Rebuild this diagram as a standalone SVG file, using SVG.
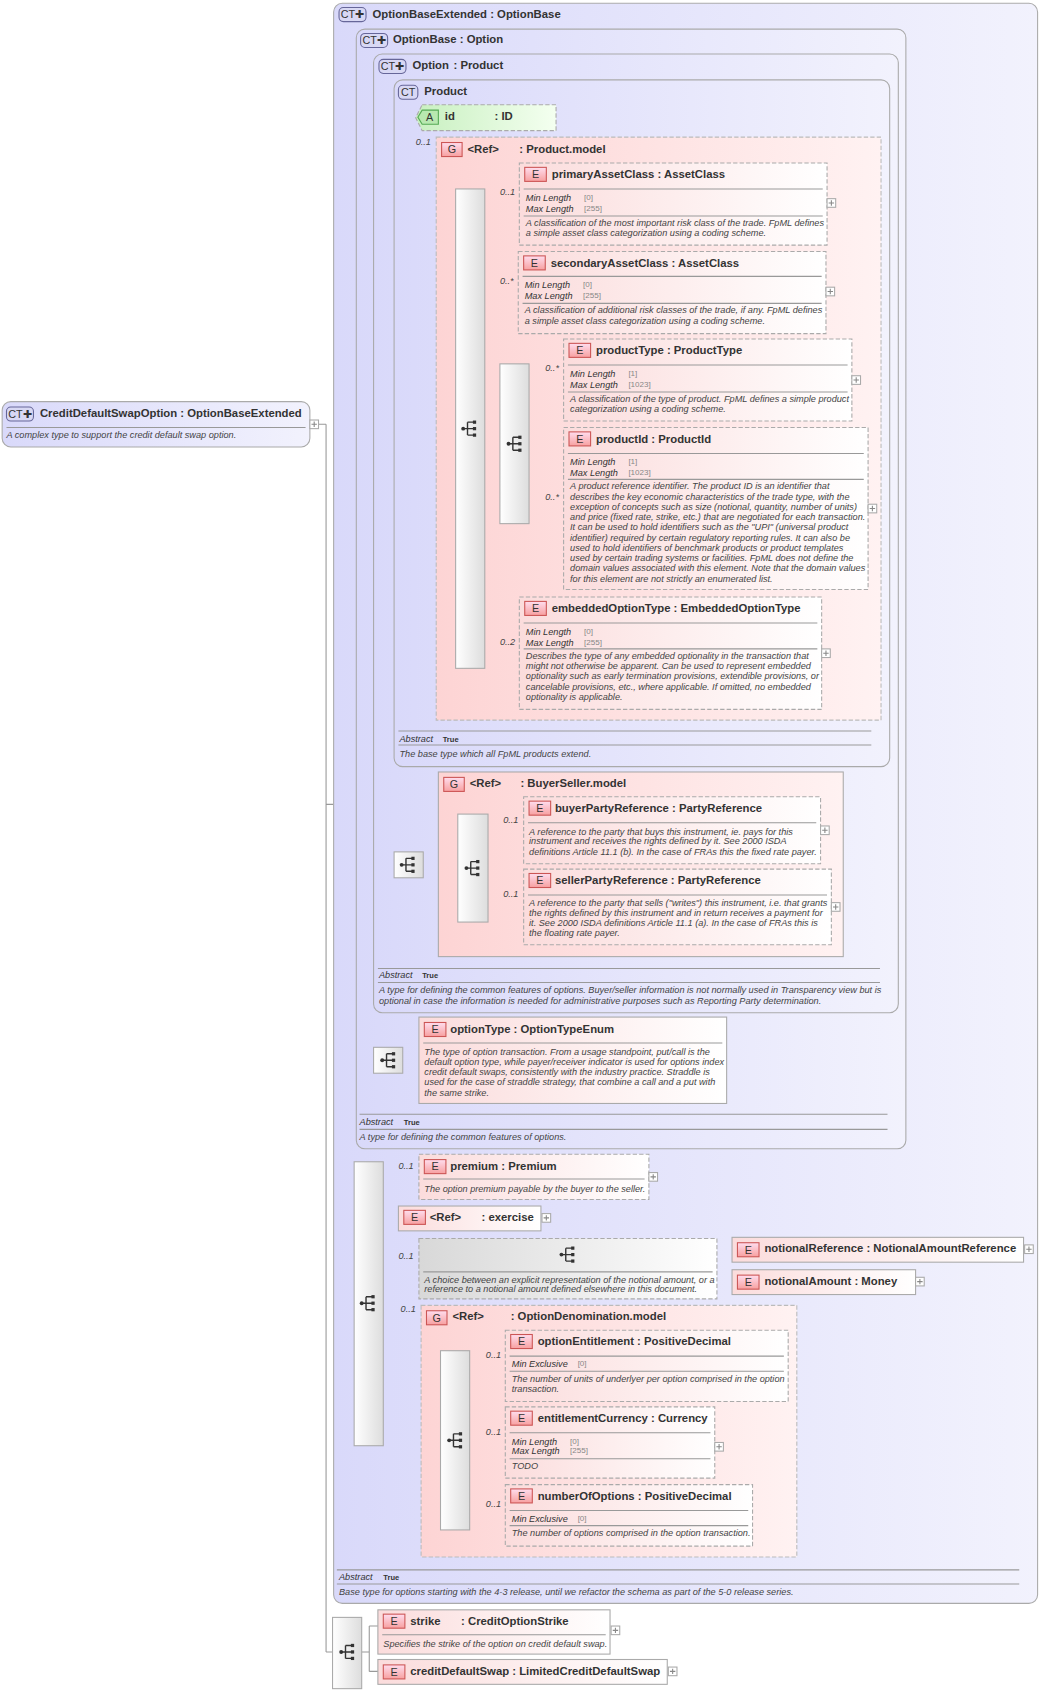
<svg xmlns="http://www.w3.org/2000/svg" width="1043" height="1695" viewBox="0 0 1043 1695">
<style>
text{font-family:"Liberation Sans",Arial,sans-serif;fill:#333}
.t{font-size:10.5px;font-weight:bold}
.l{font-size:8.5px;font-style:italic}
.v{font-size:7.5px;fill:#888}
.d{font-size:8.5px;font-style:italic;fill:#444}
.m{font-size:8.5px;font-style:italic;fill:#444}
.ic{font-size:10px;text-anchor:middle}
.ct{fill:url(#gct);stroke:#aaa;stroke-width:1}
.el{fill:url(#gel);stroke:#aaa;stroke-dasharray:4 2}
.els{fill:url(#gel);stroke:#aaa}
.grp{fill:url(#ggr);stroke:#bbb;stroke-dasharray:4 2}
.grps{fill:url(#ggr);stroke:#aaa}
.sq{fill:url(#gsq);stroke:#aaa}
.ln{stroke:#999;fill:none}
.sep{stroke:#999}
.ie{fill:url(#gie);stroke:#c55}
.ict{fill:#d8d8f4;stroke:#669}
.pl{fill:#fff;stroke:#aaa}
</style>
<defs>
<linearGradient id="gct" x1="0" x2="1"><stop offset="0" stop-color="#d9d9fa"/><stop offset="1" stop-color="#f2f2fd"/></linearGradient>
<linearGradient id="gel" x1="0" x2="1"><stop offset="0" stop-color="#fbdcdc"/><stop offset="1" stop-color="#ffffff"/></linearGradient>
<linearGradient id="ggr" x1="0" x2="1"><stop offset="0" stop-color="#fdd4d4"/><stop offset="1" stop-color="#fff2f2"/></linearGradient>
<linearGradient id="gsq" x1="0" x2="1"><stop offset="0" stop-color="#ffffff"/><stop offset="1" stop-color="#dddddd"/></linearGradient>
<linearGradient id="gie" x1="0" x2="0" y1="0" y2="1"><stop offset="0" stop-color="#fde"/><stop offset="1" stop-color="#f7a0a0"/></linearGradient>
<linearGradient id="gat" x1="0" x2="1"><stop offset="0" stop-color="#c8f0c0"/><stop offset="1" stop-color="#f4fff0"/></linearGradient>
<linearGradient id="gch" x1="0" x2="1"><stop offset="0" stop-color="#d8d8d8"/><stop offset="1" stop-color="#ffffff"/></linearGradient>
<symbol id="seq" viewBox="-8 -8 16 16" overflow="visible">
<circle cx="-6" cy="0" r="1.8" fill="#333"/><path d="M-6 0H-2M-2-6V6M-2-6H4M-2 0H4M-2 6H4" stroke="#333" stroke-width="1.3" fill="none"/>
<rect x="3" y="-7.5" width="3" height="3" fill="#333"/><rect x="3" y="-1.5" width="3" height="3" fill="#333"/><rect x="3" y="4.5" width="3" height="3" fill="#333"/>
</symbol>
<symbol id="pl" overflow="visible"><rect x="-4" y="-4" width="8" height="8" class="pl"/><path d="M-2.5 0H2.5M0-2.5V2.5" stroke="#888"/></symbol>
</defs>
<rect width="1043" height="1695" fill="#fff"/>
<g transform="scale(1.0797)">
<g id="connectors">
<path class="ln" d="M295 393H302M302 393V1530M302 745H309M302 1530H308"/>
<path class="ln" d="M318 545V1207M318 545H330M318 1207H328"/>
<path class="ln" d="M336 493V980M336 493H346M336 980H346"/>
<path class="ln" d="M356 392V800M356 392H365M356 800H365"/>
<path class="ln" d="M375 108V397M375 108H385M375 397H422"/>
<path class="ln" d="M449 397H455M455 189V597M455 189H481M455 270H480M455 411H463M455 597H481"/>
<path class="ln" d="M490 411H497M497 351V460M497 351H522M497 460H522"/>
<path class="ln" d="M392 800H424M452 804H458M458 762V841M458 762H485M458 841H485"/>
<path class="ln" d="M373 982H388"/>
<path class="ln" d="M355 1081V1326M355 1081H388M355 1128H369M355 1163H388M355 1326H408"/>
<path class="ln" d="M664 1162H670M670 1157V1188M670 1157H678M670 1188H678"/>
<path class="ln" d="M435 1334H441M441 1265V1404M441 1265H468M441 1336H468M441 1404H468"/>
<path class="ln" d="M335 1530H342M342 1506V1548M342 1506H350M342 1548H350"/>
</g>

<g id="root">
<rect x="2" y="372" width="285" height="42" rx="8" class="ct"/>
<rect x="6" y="377" width="25" height="13" rx="4" class="ict"/><text x="18.5" y="387" class="ic">CT✚</text>
<text x="37" y="386" class="t">CreditDefaultSwapOption : OptionBaseExtended</text>
<line x1="6" y1="396" x2="283" y2="396" class="sep"/>
<text x="6" y="406" class="d">A complex type to support the credit default swap option.</text>
<use href="#pl" x="291" y="393"/>
</g>

<g id="OptionBaseExtended">
<rect x="309" y="3" width="652" height="1482" rx="8" class="ct"/>
<rect x="314" y="7" width="25" height="13" rx="4" class="ict"/><text x="326.5" y="17" class="ic">CT✚</text>
<text x="345" y="17" class="t">OptionBaseExtended : OptionBase</text>
<line x1="312" y1="1454" x2="944" y2="1454" class="sep"/>
<text x="314" y="1463" class="l">Abstract</text><text x="355" y="1463" style="font-size:7px;font-weight:bold">True</text>
<line x1="312" y1="1467" x2="944" y2="1467" class="sep"/>
<text x="314" y="1477" class="d">Base type for options starting with the 4-3 release, until we refactor the schema as part of the 5-0 release series.</text>
</g>

<g id="OptionBase">
<rect x="330" y="27" width="509" height="1037" rx="8" class="ct"/>
<rect x="334" y="31" width="25" height="13" rx="4" class="ict"/><text x="346.5" y="41" class="ic">CT✚</text>
<text x="364" y="40" class="t">OptionBase : Option</text>
<line x1="333" y1="1032" x2="822" y2="1032" class="sep"/>
<text x="333" y="1042" class="l">Abstract</text><text x="374" y="1042" style="font-size:7px;font-weight:bold">True</text>
<line x1="333" y1="1046" x2="822" y2="1046" class="sep"/>
<text x="333" y="1056" class="d">A type for defining the common features of options.</text>
</g>

<g id="Option">
<rect x="346" y="50" width="486" height="888" rx="8" class="ct"/>
<rect x="351" y="55" width="25" height="13" rx="4" class="ict"/><text x="363.5" y="65" class="ic">CT✚</text>
<text x="382" y="64" class="t">Option</text><text x="420" y="64" class="t">: Product</text>
<line x1="350" y1="897" x2="815" y2="897" class="sep"/>
<text x="351" y="906" class="l">Abstract</text><text x="391" y="906" style="font-size:7px;font-weight:bold">True</text>
<line x1="350" y1="910" x2="815" y2="910" class="sep"/>
<text x="351" y="920" class="d">A type for defining the common features of options. Buyer/seller information is not normally used in Transparency view but is</text>
<text x="351" y="930" class="d">optional in case the information is needed for administrative purposes such as Reporting Party determination.</text>
</g>

<g id="Product">
<rect x="365" y="74" width="459" height="636" rx="8" class="ct"/>
<rect x="369" y="79" width="18" height="13" rx="4" class="ict"/><text x="378" y="89" class="ic">CT</text>
<text x="393" y="88" class="t">Product</text>
<line x1="369" y1="677" x2="807" y2="677" class="sep"/>
<text x="370" y="687" class="l">Abstract</text><text x="410" y="687" style="font-size:7px;font-weight:bold">True</text>
<line x1="369" y1="690" x2="807" y2="690" class="sep"/>
<text x="370" y="701" class="d">The base type which all FpML products extend.</text>
</g>

<g id="id">
<path d="M391 97H515V121H391L385 109Z" fill="url(#gat)" stroke="#aaa" stroke-dasharray="4 2"/>
<path d="M391 102H406V115H391L387 108.5Z" fill="#b8e8b0" stroke="#5a5"/><text x="398" y="112" class="ic">A</text>
<text x="412" y="111" class="t">id</text><text x="458" y="111" class="t">: ID</text>
</g>

<g id="ProductModel">
<text x="385" y="134" class="m">0..1</text>
<rect x="404" y="127" width="412" height="540" class="grp"/>
<rect x="409" y="132" width="19" height="13" class="ie"/><text x="418.5" y="142" class="ic">G</text>
<text x="433" y="142" class="t">&lt;Ref&gt;</text><text x="481" y="142" class="t">: Product.model</text>
<rect x="422" y="175" width="27" height="444" class="sq"/>
<use href="#seq" x="427" y="389" width="16" height="16"/>
<rect x="463" y="337" width="27" height="148" class="sq"/>
<use href="#seq" x="469" y="403" width="16" height="16"/>
</g>

<g id="primaryAssetClass">
<text x="463" y="181" class="m">0..1</text>
<rect x="481" y="151" width="285" height="76" class="el"/>
<rect x="486" y="155" width="20" height="13" class="ie"/><text x="496" y="165" class="ic">E</text>
<text x="511" y="165" class="t">primaryAssetClass : AssetClass</text>
<line x1="485" y1="175" x2="762" y2="175" class="sep"/>
<text x="487" y="186" class="l">Min Length</text><text x="541" y="185" class="v">[0]</text>
<text x="487" y="196" class="l">Max Length</text><text x="541" y="195" class="v">[255]</text>
<line x1="485" y1="200" x2="762" y2="200" class="sep"/>
<text x="487" y="209" class="d">A classification of the most important risk class of the trade. FpML defines</text>
<text x="487" y="219" class="d">a simple asset class categorization using a coding scheme.</text>
<use href="#pl" x="770" y="188"/>
</g>

<g id="secondaryAssetClass">
<text x="463" y="263" class="m">0..*</text>
<rect x="480" y="233" width="285" height="76" class="el"/>
<rect x="485" y="237" width="20" height="13" class="ie"/><text x="495" y="247" class="ic">E</text>
<text x="510" y="247" class="t">secondaryAssetClass : AssetClass</text>
<line x1="484" y1="256" x2="761" y2="256" class="sep"/>
<text x="486" y="267" class="l">Min Length</text><text x="540" y="266" class="v">[0]</text>
<text x="486" y="277" class="l">Max Length</text><text x="540" y="276" class="v">[255]</text>
<line x1="484" y1="281" x2="761" y2="281" class="sep"/>
<text x="486" y="290" class="d">A classification of additional risk classes of the trade, if any. FpML defines</text>
<text x="486" y="300" class="d">a simple asset class categorization using a coding scheme.</text>
<use href="#pl" x="769" y="270"/>
</g>

<g id="productType">
<text x="505" y="344" class="m">0..*</text>
<rect x="522" y="314" width="267" height="76" class="el"/>
<rect x="527" y="318" width="20" height="13" class="ie"/><text x="537" y="328" class="ic">E</text>
<text x="552" y="328" class="t">productType : ProductType</text>
<line x1="526" y1="338" x2="785" y2="338" class="sep"/>
<text x="528" y="349" class="l">Min Length</text><text x="582" y="348" class="v">[1]</text>
<text x="528" y="359" class="l">Max Length</text><text x="582" y="358" class="v">[1023]</text>
<line x1="526" y1="363" x2="785" y2="363" class="sep"/>
<text x="528" y="372" class="d">A classification of the type of product. FpML defines a simple product</text>
<text x="528" y="382" class="d">categorization using a coding scheme.</text>
<use href="#pl" x="793" y="352"/>
</g>

<g id="productId">
<text x="505" y="463" class="m">0..*</text>
<rect x="522" y="396" width="282" height="150" class="el"/>
<rect x="527" y="400" width="20" height="13" class="ie"/><text x="537" y="410" class="ic">E</text>
<text x="552" y="410" class="t">productId : ProductId</text>
<line x1="526" y1="420" x2="800" y2="420" class="sep"/>
<text x="528" y="431" class="l">Min Length</text><text x="582" y="430" class="v">[1]</text>
<text x="528" y="441" class="l">Max Length</text><text x="582" y="440" class="v">[1023]</text>
<line x1="526" y1="444" x2="800" y2="444" class="sep"/>
<text x="528" y="453" class="d">A product reference identifier. The product ID is an identifier that</text>
<text x="528" y="463" class="d">describes the key economic characteristics of the trade type, with the</text>
<text x="528" y="472" class="d">exception of concepts such as size (notional, quantity, number of units)</text>
<text x="528" y="482" class="d">and price (fixed rate, strike, etc.) that are negotiated for each transaction.</text>
<text x="528" y="491" class="d">It can be used to hold identifiers such as the "UPI" (universal product</text>
<text x="528" y="501" class="d">identifier) required by certain regulatory reporting rules. It can also be</text>
<text x="528" y="510" class="d">used to hold identifiers of benchmark products or product templates</text>
<text x="528" y="520" class="d">used by certain trading systems or facilities. FpML does not define the</text>
<text x="528" y="529" class="d">domain values associated with this element. Note that the domain values</text>
<text x="528" y="539" class="d">for this element are not strictly an enumerated list.</text>
<use href="#pl" x="808" y="471"/>
</g>

<g id="embeddedOptionType">
<text x="463" y="597" class="m">0..2</text>
<rect x="481" y="553" width="280" height="104" class="el"/>
<rect x="486" y="557" width="20" height="13" class="ie"/><text x="496" y="567" class="ic">E</text>
<text x="511" y="567" class="t">embeddedOptionType : EmbeddedOptionType</text>
<line x1="485" y1="577" x2="757" y2="577" class="sep"/>
<text x="487" y="588" class="l">Min Length</text><text x="541" y="587" class="v">[0]</text>
<text x="487" y="598" class="l">Max Length</text><text x="541" y="597" class="v">[255]</text>
<line x1="485" y1="601" x2="757" y2="601" class="sep"/>
<text x="487" y="610" class="d">Describes the type of any embedded optionality in the transaction that</text>
<text x="487" y="620" class="d">might not otherwise be apparent. Can be used to represent embedded</text>
<text x="487" y="629" class="d">optionality such as early termination provisions, extendible provisions, or</text>
<text x="487" y="639" class="d">cancelable provisions, etc., where applicable. If omitted, no embedded</text>
<text x="487" y="648" class="d">optionality is applicable.</text>
<use href="#pl" x="765" y="605"/>
</g>

<g id="BuyerSellerModel">
<rect x="365" y="789" width="27" height="24" class="sq"/>
<use href="#seq" x="370" y="793" width="16" height="16"/>
<rect x="406" y="715" width="375" height="171" class="grps"/>
<rect x="411" y="720" width="19" height="13" class="ie"/><text x="420.5" y="730" class="ic">G</text>
<text x="435" y="729" class="t">&lt;Ref&gt;</text><text x="482" y="729" class="t">: BuyerSeller.model</text>
<rect x="424" y="754" width="28" height="100" class="sq"/>
<use href="#seq" x="430" y="796" width="16" height="16"/>
</g>

<g id="buyerPartyReference">
<text x="466" y="762" class="m">0..1</text>
<rect x="485" y="738" width="275" height="62" class="el"/>
<rect x="490" y="742" width="20" height="13" class="ie"/><text x="500" y="752" class="ic">E</text>
<text x="514" y="752" class="t">buyerPartyReference : PartyReference</text>
<line x1="489" y1="762" x2="756" y2="762" class="sep"/>
<text x="490" y="773" class="d">A reference to the party that buys this instrument, ie. pays for this</text>
<text x="490" y="782" class="d">instrument and receives the rights defined by it. See 2000 ISDA</text>
<text x="490" y="792" class="d">definitions Article 11.1 (b). In the case of FRAs this the fixed rate payer.</text>
<use href="#pl" x="764" y="769"/>
</g>

<g id="sellerPartyReference">
<text x="466" y="831" class="m">0..1</text>
<rect x="485" y="805" width="285" height="70" class="el"/>
<rect x="490" y="809" width="20" height="13" class="ie"/><text x="500" y="819" class="ic">E</text>
<text x="514" y="819" class="t">sellerPartyReference : PartyReference</text>
<line x1="489" y1="829" x2="766" y2="829" class="sep"/>
<text x="490" y="839" class="d">A reference to the party that sells ("writes") this instrument, i.e. that grants</text>
<text x="490" y="848" class="d">the rights defined by this instrument and in return receives a payment for</text>
<text x="490" y="858" class="d">it. See 2000 ISDA definitions Article 11.1 (a). In the case of FRAs this is</text>
<text x="490" y="867" class="d">the floating rate payer.</text>
<use href="#pl" x="774" y="840"/>
</g>

<g id="optionType">
<rect x="346" y="970" width="27" height="24" class="sq"/>
<use href="#seq" x="352" y="974" width="16" height="16"/>
<rect x="388" y="942" width="285" height="80" class="els"/>
<rect x="393" y="947" width="20" height="13" class="ie"/><text x="403" y="957" class="ic">E</text>
<text x="417" y="957" class="t">optionType : OptionTypeEnum</text>
<line x1="392" y1="966" x2="669" y2="966" class="sep"/>
<text x="393" y="977" class="d">The type of option transaction. From a usage standpoint, put/call is the</text>
<text x="393" y="986" class="d">default option type, while payer/receiver indicator is used for options index</text>
<text x="393" y="996" class="d">credit default swaps, consistently with the industry practice. Straddle is</text>
<text x="393" y="1005" class="d">used for the case of straddle strategy, that combine a call and a put with</text>
<text x="393" y="1015" class="d">the same strike.</text>
</g>

<g id="seqExt">
<rect x="328" y="1076" width="27" height="263" class="sq"/>
<use href="#seq" x="333" y="1199" width="16" height="16"/>
</g>

<g id="premium">
<text x="369" y="1083" class="m">0..1</text>
<rect x="388" y="1069" width="213" height="42" class="el"/>
<rect x="393" y="1074" width="20" height="13" class="ie"/><text x="403" y="1084" class="ic">E</text>
<text x="417" y="1084" class="t">premium : Premium</text>
<line x1="392" y1="1092" x2="597" y2="1092" class="sep"/>
<text x="393" y="1104" class="d">The option premium payable by the buyer to the seller.</text>
<use href="#pl" x="605" y="1090"/>
</g>

<g id="exercise">
<rect x="369" y="1117" width="132" height="23" class="els"/>
<rect x="374" y="1121" width="20" height="13" class="ie"/><text x="384" y="1131" class="ic">E</text>
<text x="398" y="1131" class="t">&lt;Ref&gt;</text><text x="446" y="1131" class="t">: exercise</text>
<use href="#pl" x="506" y="1128"/>
</g>

<g id="choice">
<text x="369" y="1166" class="m">0..1</text>
<rect x="388" y="1147" width="276" height="56" fill="url(#gch)" stroke="#aaa" stroke-dasharray="4 2"/>
<use href="#seq" x="518" y="1154" width="16" height="16"/>
<line x1="392" y1="1178" x2="660" y2="1178" class="sep"/>
<text x="393" y="1188" class="d">A choice between an explicit representation of the notional amount, or a</text>
<text x="393" y="1197" class="d">reference to a notional amount defined elsewhere in this document.</text>
</g>

<g id="notionalReference">
<rect x="678" y="1146" width="270" height="23" class="els"/>
<rect x="683" y="1151" width="20" height="13" class="ie"/><text x="693" y="1161" class="ic">E</text>
<text x="708" y="1160" class="t">notionalReference : NotionalAmountReference</text>
<use href="#pl" x="953" y="1157"/>
</g>

<g id="notionalAmount">
<rect x="678" y="1176" width="170" height="23" class="els"/>
<rect x="683" y="1181" width="20" height="13" class="ie"/><text x="693" y="1191" class="ic">E</text>
<text x="708" y="1190" class="t">notionalAmount : Money</text>
<use href="#pl" x="852" y="1187"/>
</g>

<g id="OptionDenominationModel">
<text x="371" y="1215" class="m">0..1</text>
<rect x="390" y="1209" width="348" height="233" class="grp"/>
<rect x="395" y="1214" width="19" height="13" class="ie"/><text x="404.5" y="1224" class="ic">G</text>
<text x="419" y="1223" class="t">&lt;Ref&gt;</text><text x="473" y="1223" class="t">: OptionDenomination.model</text>
<rect x="408" y="1251" width="27" height="166" class="sq"/>
<use href="#seq" x="414" y="1326" width="16" height="16"/>
</g>

<g id="optionEntitlement">
<text x="450" y="1258" class="m">0..1</text>
<rect x="468" y="1232" width="262" height="66" class="el"/>
<rect x="473" y="1236" width="20" height="13" class="ie"/><text x="483" y="1246" class="ic">E</text>
<text x="498" y="1246" class="t">optionEntitlement : PositiveDecimal</text>
<line x1="472" y1="1256" x2="726" y2="1256" class="sep"/>
<text x="474" y="1266" class="l">Min Exclusive</text><text x="535" y="1265" class="v">[0]</text>
<line x1="472" y1="1270" x2="726" y2="1270" class="sep"/>
<text x="474" y="1280" class="d">The number of units of underlyer per option comprised in the option</text>
<text x="474" y="1289" class="d">transaction.</text>
</g>

<g id="entitlementCurrency">
<text x="450" y="1329" class="m">0..1</text>
<rect x="468" y="1303" width="194" height="66" class="el"/>
<rect x="473" y="1307" width="20" height="13" class="ie"/><text x="483" y="1317" class="ic">E</text>
<text x="498" y="1317" class="t">entitlementCurrency : Currency</text>
<line x1="472" y1="1327" x2="658" y2="1327" class="sep"/>
<text x="474" y="1338" class="l">Min Length</text><text x="528" y="1337" class="v">[0]</text>
<text x="474" y="1347" class="l">Max Length</text><text x="528" y="1346" class="v">[255]</text>
<line x1="472" y1="1351" x2="658" y2="1351" class="sep"/>
<text x="474" y="1361" class="d">TODO</text>
<use href="#pl" x="666" y="1340"/>
</g>

<g id="numberOfOptions">
<text x="450" y="1396" class="m">0..1</text>
<rect x="468" y="1375" width="229" height="57" class="el"/>
<rect x="473" y="1379" width="20" height="13" class="ie"/><text x="483" y="1389" class="ic">E</text>
<text x="498" y="1389" class="t">numberOfOptions : PositiveDecimal</text>
<line x1="472" y1="1399" x2="693" y2="1399" class="sep"/>
<text x="474" y="1410" class="l">Min Exclusive</text><text x="535" y="1409" class="v">[0]</text>
<line x1="472" y1="1413" x2="693" y2="1413" class="sep"/>
<text x="474" y="1423" class="d">The number of options comprised in the option transaction.</text>
</g>

<g id="seqBottom">
<rect x="308" y="1498" width="27" height="66" class="sq"/>
<use href="#seq" x="314" y="1522" width="16" height="16"/>
</g>

<g id="strike">
<rect x="350" y="1491" width="215" height="41" class="els"/>
<rect x="355" y="1495" width="20" height="13" class="ie"/><text x="365" y="1505" class="ic">E</text>
<text x="380" y="1505" class="t">strike</text><text x="427" y="1505" class="t">: CreditOptionStrike</text>
<line x1="354" y1="1514" x2="561" y2="1514" class="sep"/>
<text x="355" y="1525" class="d">Specifies the strike of the option on credit default swap.</text>
<use href="#pl" x="570" y="1510"/>
</g>

<g id="creditDefaultSwap">
<rect x="350" y="1537" width="268" height="23" class="els"/>
<rect x="355" y="1542" width="20" height="13" class="ie"/><text x="365" y="1552" class="ic">E</text>
<text x="380" y="1551" class="t">creditDefaultSwap : LimitedCreditDefaultSwap</text>
<use href="#pl" x="623" y="1548"/>
</g>
</g>
</svg>
